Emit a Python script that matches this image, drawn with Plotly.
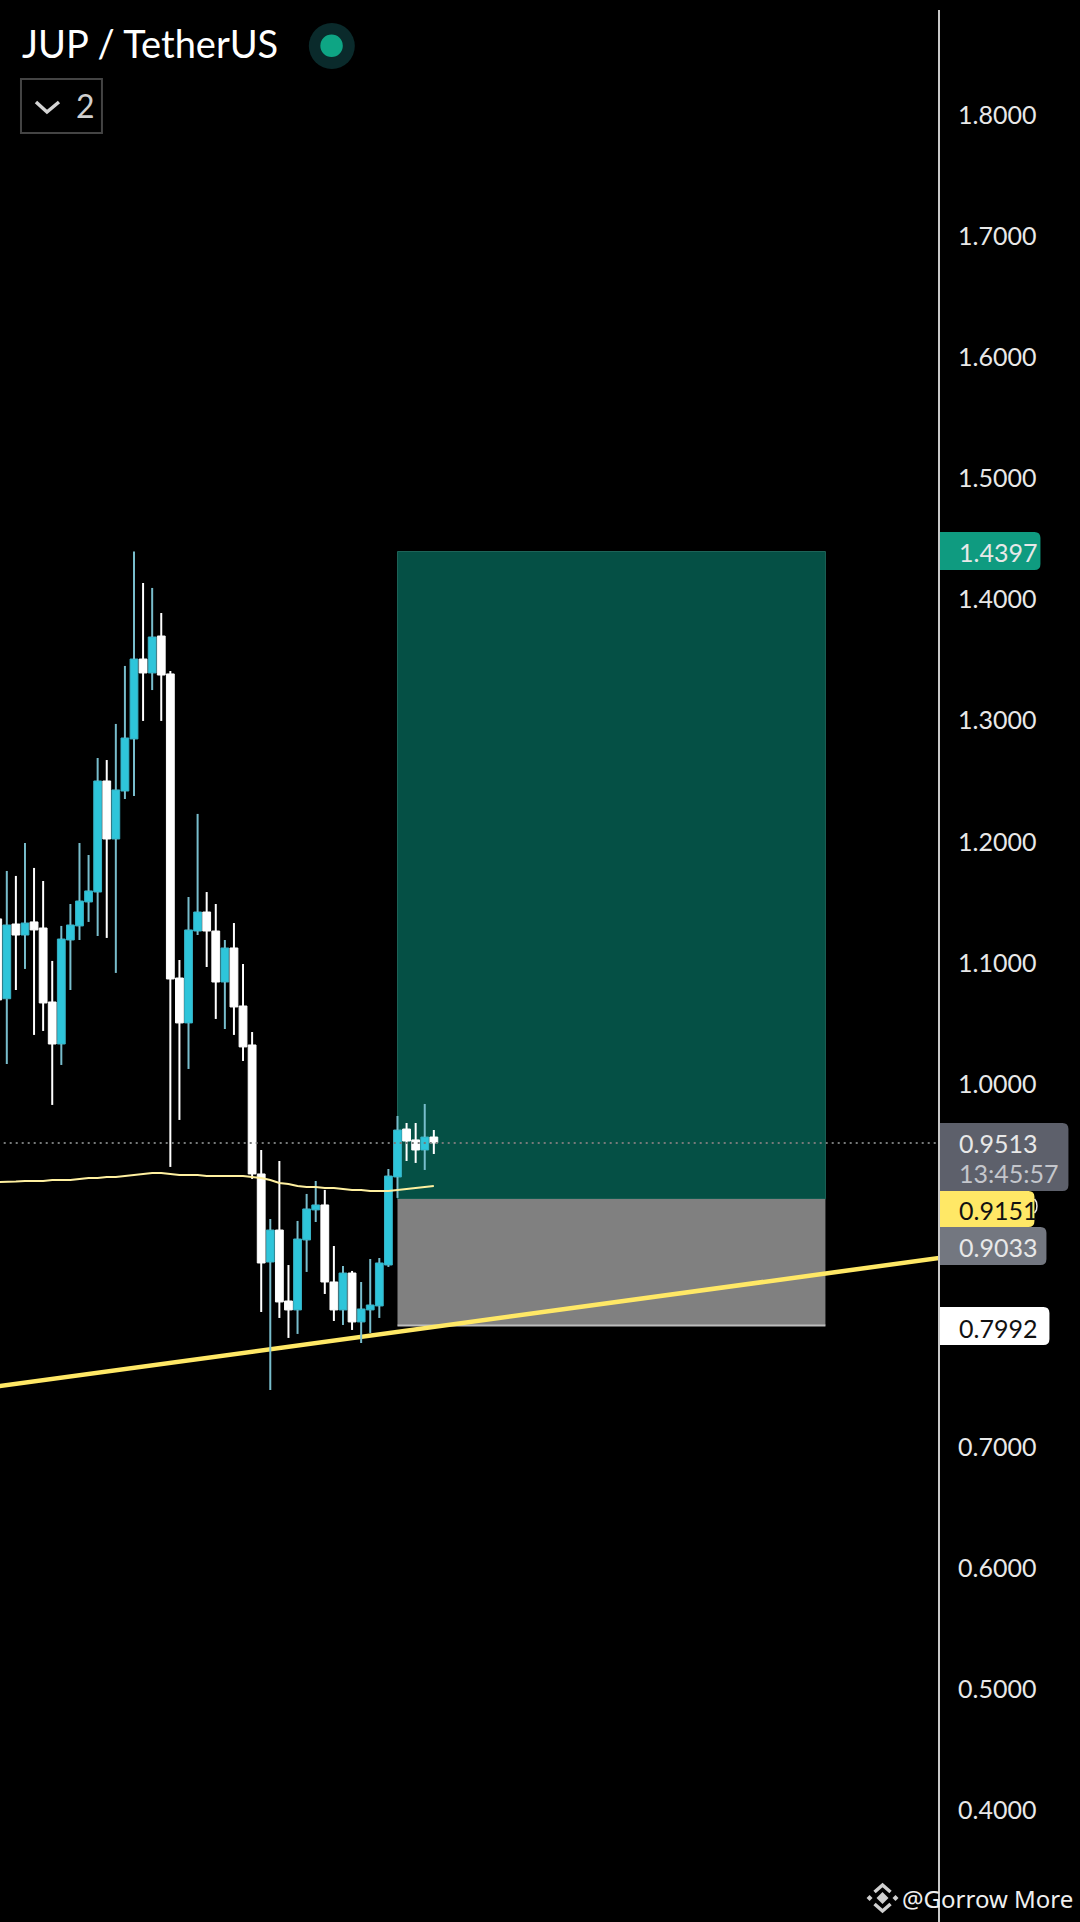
import plotly.graph_objects as go

# values
opens = [1.1363, 1.0704, 1.1321, 1.1230, 1.1338, 1.1288, 1.0677, 1.0330, 1.1189, 1.1305,
         1.1503, 1.1585, 1.2502, 1.2023, 1.2419, 1.2849, 1.3509, 1.3394, 1.3699, 1.3386,
         1.0875, 1.0504, 1.1263, 1.1420, 1.1263, 1.0842, 1.1123, 1.0644, 1.0322, 0.9257,
         0.8530, 0.8794, 0.8208, 0.8134, 0.8712, 0.8960, 0.9001, 0.8365, 0.8134, 0.8439,
         0.8035, 0.8134, 0.8167, 0.8505, 0.9232, 0.9628, 0.9538, 0.9455, 0.9562]
highs = [1.1486, 1.1759, 1.1718, 1.1990, 1.1784, 1.1676, 1.1016, 1.1305, 1.1486, 1.1990,
         1.1891, 1.2692, 1.2675, 1.2973, 1.3452, 1.4397, 1.4137, 1.4096, 1.3889, 1.3410,
         1.1024, 1.1544, 1.2230, 1.1585, 1.1486, 1.1189, 1.1329, 1.0991, 1.0429, 0.9455,
         0.8885, 0.9364, 0.8505, 0.8869, 0.9092, 0.9199, 0.9125, 0.8662, 0.8497, 0.8456,
         0.8365, 0.8555, 0.8563, 0.9298, 0.9736, 0.9678, 0.9678, 0.9835, 0.9620]
lows = [1.0405, 1.0165, 1.0776, 1.0950, 1.0405, 1.0438, 0.9827, 1.0157, 1.0776, 1.1189,
        1.1338, 1.1222, 1.1206, 1.0917, 1.2353, 1.2378, 1.2998, 1.3253, 1.2998, 0.9315,
        0.9703, 1.0124, 1.1230, 1.0966, 1.0537, 1.0454, 1.0405, 1.0190, 0.9216, 0.8117,
        0.7473, 0.8068, 0.7903, 0.7936, 0.8448, 0.8860, 0.8266, 0.8043, 0.8010, 0.7969,
        0.7861, 0.7944, 0.8068, 0.8489, 0.9059, 0.9364, 0.9348, 0.9290, 0.9422]
closes = [1.0694, 1.1313, 1.1230, 1.1329, 1.1272, 1.0669, 1.0330, 1.1197, 1.1313, 1.1511,
          1.1594, 1.2502, 1.2023, 1.2428, 1.2857, 1.3509, 1.3394, 1.3691, 1.3377, 1.0867,
          1.0504, 1.1272, 1.1420, 1.1263, 1.0842, 1.1123, 1.0636, 1.0306, 0.9257, 0.8522,
          0.8794, 0.8200, 0.8134, 0.8720, 0.8968, 0.9001, 0.8365, 0.8134, 0.8439, 0.8035,
          0.8142, 0.8175, 0.8522, 0.9240, 0.9620, 0.9529, 0.9455, 0.9562, 0.9513]
ema = [0.9191, 0.9191, 0.9195, 0.9199, 0.9199, 0.9199, 0.9207, 0.9207, 0.9207, 0.9216,
       0.9224, 0.9224, 0.9232, 0.9232, 0.9240, 0.9249, 0.9257, 0.9265, 0.9265, 0.9257,
       0.9249, 0.9249, 0.9249, 0.9240, 0.9240, 0.9240, 0.9240, 0.9240, 0.9232, 0.9224,
       0.9207, 0.9182, 0.9174, 0.9158, 0.9149, 0.9149, 0.9141, 0.9141, 0.9133, 0.9125,
       0.9125, 0.9116, 0.9116, 0.9116, 0.9125, 0.9133, 0.9141, 0.9149, 0.9158]

trend_x = [0, 104]
trend_y = [0.7503, 0.8567]
last_price = 0.9513
target_level = 1.4397
entry_level = 0.9051
stop_level = 0.8005
box_x = [44.0, 91.1]
tick_vals = [1.8, 1.7, 1.6, 1.5, 1.4, 1.3, 1.2, 1.1, 1.0, 0.7, 0.6, 0.5, 0.4]
tick_text = ['1.8000', '1.7000', '1.6000', '1.5000', '1.4000', '1.3000', '1.2000',
             '1.1000', '1.0000', '0.7000', '0.6000', '0.5000', '0.4000']

W, H = 1080, 1922
AXIS_X = 939.5
FONT = 'Lato'
LABEL_SIZE = 25
CYAN = '#2ec5da'
CYAN_EDGE = '#38b2c6'
CYAN_WICK = '#78bdcc'
YELLOW = '#ffe866'


def px(x):
    return x / AXIS_X


def py(y):
    return 1 - y / H


def label_path(x1, y0, y1, r=6):
    """Axis label box, square on the axis side and rounded on the other."""
    x0 = AXIS_X + 1
    return (f'M{px(x0)},{py(y0)} L{px(x1 - r)},{py(y0)} Q{px(x1)},{py(y0)} {px(x1)},{py(y0 + r)} '
            f'L{px(x1)},{py(y1 - r)} Q{px(x1)},{py(y1)} {px(x1 - r)},{py(y1)} L{px(x0)},{py(y1)} Z')


def stroke(points):
    return 'M' + ' L'.join(f'{px(a)},{py(b)}' for a, b in points)


def text(fig, s, x, y, size=LABEL_SIZE, color='#e8e8e8', family=FONT, xanchor='left', **kw):
    fig.add_annotation(text=s, x=px(x), y=py(y), xref='paper', yref='paper', xanchor=xanchor,
                       yanchor='middle', showarrow=False, font=dict(family=family, size=size, color=color), **kw)


idx = list(range(len(opens)))
is_up = [c >= o for o, c in zip(opens, closes)]

fig = go.Figure()

# position box
fig.add_shape(type='rect', x0=box_x[0], x1=box_x[1], y0=entry_level, y1=target_level, layer='below',
              fillcolor='#055045', line=dict(color='#1d6358', width=1))
fig.add_shape(type='rect', x0=box_x[0], x1=box_x[1], y0=stop_level, y1=entry_level, layer='below',
              fillcolor='#808080', line=dict(width=0))
fig.add_shape(type='line', x0=box_x[0], x1=box_x[1], y0=stop_level, y1=stop_level, layer='below',
              line=dict(color='#bdbdbd', width=2))

fig.add_trace(go.Scatter(x=trend_x, y=trend_y, mode='lines', line=dict(color=YELLOW, width=4.5)))

# wicks are split so they do not run over the bodies
for up, color in [(True, CYAN_WICK), (False, '#ffffff')]:
    wx, wy = [], []
    for i in idx:
        if is_up[i] != up:
            continue
        wx += [i, i, None, i, i, None]
        wy += [highs[i], max(opens[i], closes[i]), None, min(opens[i], closes[i]), lows[i], None]
    fig.add_trace(go.Scatter(x=wx, y=wy, mode='lines', line=dict(color=color, width=2)))

fig.add_trace(go.Bar(
    x=idx,
    base=[min(o, c) for o, c in zip(opens, closes)],
    y=[abs(o - c) for o, c in zip(opens, closes)],
    width=0.86,
    marker=dict(color=[CYAN if u else '#ffffff' for u in is_up],
                line=dict(color=[CYAN_EDGE if u else '#ffffff' for u in is_up], width=1)),
))

fig.add_trace(go.Scatter(x=idx, y=ema, mode='lines', line=dict(color='#fff0a0', width=2)))
fig.add_trace(go.Scatter(x=trend_x, y=[last_price, last_price], mode='lines',
                         line=dict(color='#777a7a', width=2, dash='2px,4px')))

# price scale line
fig.add_shape(type='line', xref='paper', yref='paper', x0=px(AXIS_X), x1=px(AXIS_X), y0=py(10), y1=py(H),
              line=dict(color='#c8c8c8', width=2))

# sliver of the label hidden behind the yellow one
fig.add_shape(type='path', xref='paper', yref='paper',
              path=stroke([(1035, 1199), (1037, 1202), (1037.5, 1206), (1037, 1210), (1035, 1213)]),
              line=dict(color='#e8e8e8', width=1.5))

# axis labels
for x1, y0, y1, color in [(1041, 532, 570, '#0f9b80'), (1069, 1123, 1191, '#5d606b'), (1035, 1191, 1227, YELLOW),
                          (1047, 1227, 1265, '#737780'), (1050, 1307, 1345, '#ffffff')]:
    fig.add_shape(type='path', xref='paper', yref='paper', path=label_path(x1, y0, y1),
                  fillcolor=color, line=dict(width=0))

text(fig, '1.4397', 958, 552)
text(fig, '0.9513', 958, 1143)
text(fig, '13:45:57', 958, 1173, color='#c4c6cc')
text(fig, '0.9151', 958, 1210, color='#111111')
text(fig, '0.9033', 958, 1247)
text(fig, '0.7992', 958, 1328, color='#111111')
text(fig, '0.3000', 958, 1932)

# header
text(fig, 'JUP / TetherUS', 20, 43, size=38, color='#ffffff')
fig.add_shape(type='circle', xref='paper', yref='paper', x0=px(309), x1=px(355), y0=py(23), y1=py(69),
              fillcolor='#0a2a2b', line=dict(width=0))
fig.add_shape(type='circle', xref='paper', yref='paper', x0=px(320.5), x1=px(343), y0=py(34.5), y1=py(57),
              fillcolor='#0ea584', line=dict(width=0))
fig.add_shape(type='rect', xref='paper', yref='paper', x0=px(21), x1=px(102), y0=py(79), y1=py(133),
              line=dict(color='#444444', width=2), fillcolor='rgba(0,0,0,0)')
fig.add_shape(type='path', xref='paper', yref='paper', path=stroke([(36, 102), (47, 112), (59, 102)]),
              line=dict(color='#d4d4d4', width=3.5))
text(fig, '2', 74, 105, size=32, color='#cfcfcf')

# watermark
logo = [[(883, 1892), (889, 1898), (883, 1904), (877, 1898)],
        [(870, 1895), (873, 1898), (870, 1901), (867, 1898)],
        [(896, 1895), (899, 1898), (896, 1901), (893, 1898)]]
for pts in logo:
    fig.add_shape(type='path', xref='paper', yref='paper', path=stroke(pts) + ' Z',
                  fillcolor='#d0d0d0', line=dict(width=0))
for pts in [[(875, 1892), (883, 1885), (891, 1892)], [(875, 1904), (883, 1911), (891, 1904)]]:
    fig.add_shape(type='path', xref='paper', yref='paper', path=stroke(pts),
                  line=dict(color='#d0d0d0', width=3.5))
text(fig, '@Gorrow More', 900, 1898, size=24, color='#efefef', family='Noto Sans')

fig.update_layout(
    width=W, height=H, margin=dict(l=0, r=W - AXIS_X, t=0, b=0),
    paper_bgcolor='#000000', plot_bgcolor='#000000', showlegend=False, barmode='overlay',
    xaxis=dict(visible=False, range=[0.252, 103.6]),
    yaxis=dict(side='right', range=[0.3080, 1.8951], tickmode='array', tickvals=tick_vals, ticktext=tick_text,
               tickfont=dict(family=FONT, size=LABEL_SIZE, color='#e8e8e8'), ticks='', ticklabelstandoff=18,
               showgrid=False, zeroline=False, showline=False),
)

fig.write_html("out.html", config={'displayModeBar': False}, post_script="document.body.style.margin='0';")
